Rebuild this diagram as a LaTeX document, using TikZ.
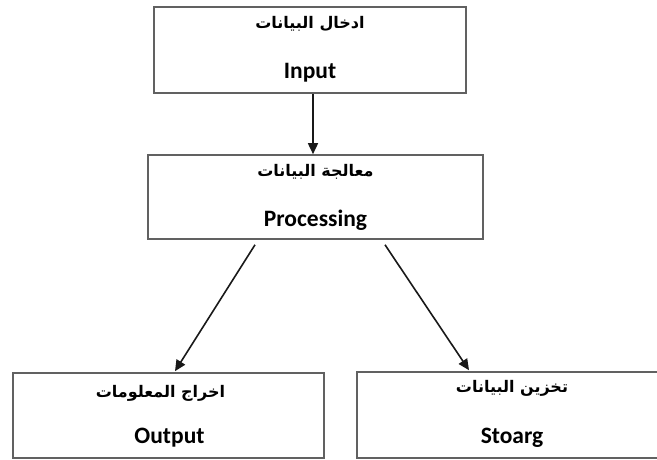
\documentclass[tikz,border=0pt]{standalone}
\usepackage{fontspec}
\setmainfont{Carlito}
\newfontfamily\arabicfont[Script=Arabic]{DejaVu Sans}
\TeXXeTstate=1
\usetikzlibrary{arrows.meta,calc}
\begin{document}
\begin{tikzpicture}[x=1pt,y=1pt,
  box/.style={draw=black!62,line width=1.6pt,rectangle,inner sep=0pt},
  ar/.style={font=\arabicfont\bfseries\fontsize{16}{18}\selectfont,inner sep=0pt},
  en/.style={font=\bfseries\fontsize{23.5}{25}\selectfont,inner sep=0pt},
  arr/.style={draw=black!90,line width=1.6pt,-{Triangle[length=11pt,width=10pt]}}]
\useasboundingbox (0,0) rectangle (657,460);
% boxes (y measured from top: y = 460 - ypx)
\node[box,minimum width=312pt,minimum height=86pt] (in) at (310,410) {};
\node[box,minimum width=335pt,minimum height=84pt] (proc) at (315.5,263) {};
\node[box,minimum width=311pt,minimum height=85pt] (out) at (168.5,44.5) {};
\node[box,minimum width=310pt,minimum height=86pt] (stor) at (512,45) {};
% texts
\node[ar] (inA) at ($(in.north)+(0,-18)$) {\beginR ادخال البيانات\endR};
\node[en] (inE) at ($(in.south)+(0,21)$) {Input};
\node[ar] (procA) at ($(proc.north)+(0,-18)$) {\beginR معالجة البيانات\endR};
\node[en] (procE) at ($(proc.south)+(0,20)$) {Processing};
\node[ar] (outA) at ($(out.north)+(-8,-21)$) {\beginR اخراج المعلومات\endR};
\node[en] (outE) at ($(out.south)+(1,21)$) {Output};
\node[ar] (storA) at ($(stor.north)+(0,-17)$) {\beginR تخزين البيانات\endR};
\node[en] (storE) at ($(stor.south)+(0,21)$) {Stoarg};
% connectors
\draw[arr] ([xshift=3pt]in.south) -- ([xshift=3pt]in.south |- proc.north);
\draw[arr] ([xshift=-60.5pt,yshift=-5pt]proc.south) -- ([xshift=6.5pt,yshift=1pt]out.north);
\draw[arr] ([xshift=69.5pt,yshift=-5pt]proc.south) -- ([xshift=-43pt,yshift=1pt]stor.north);
\end{tikzpicture}
\end{document}
